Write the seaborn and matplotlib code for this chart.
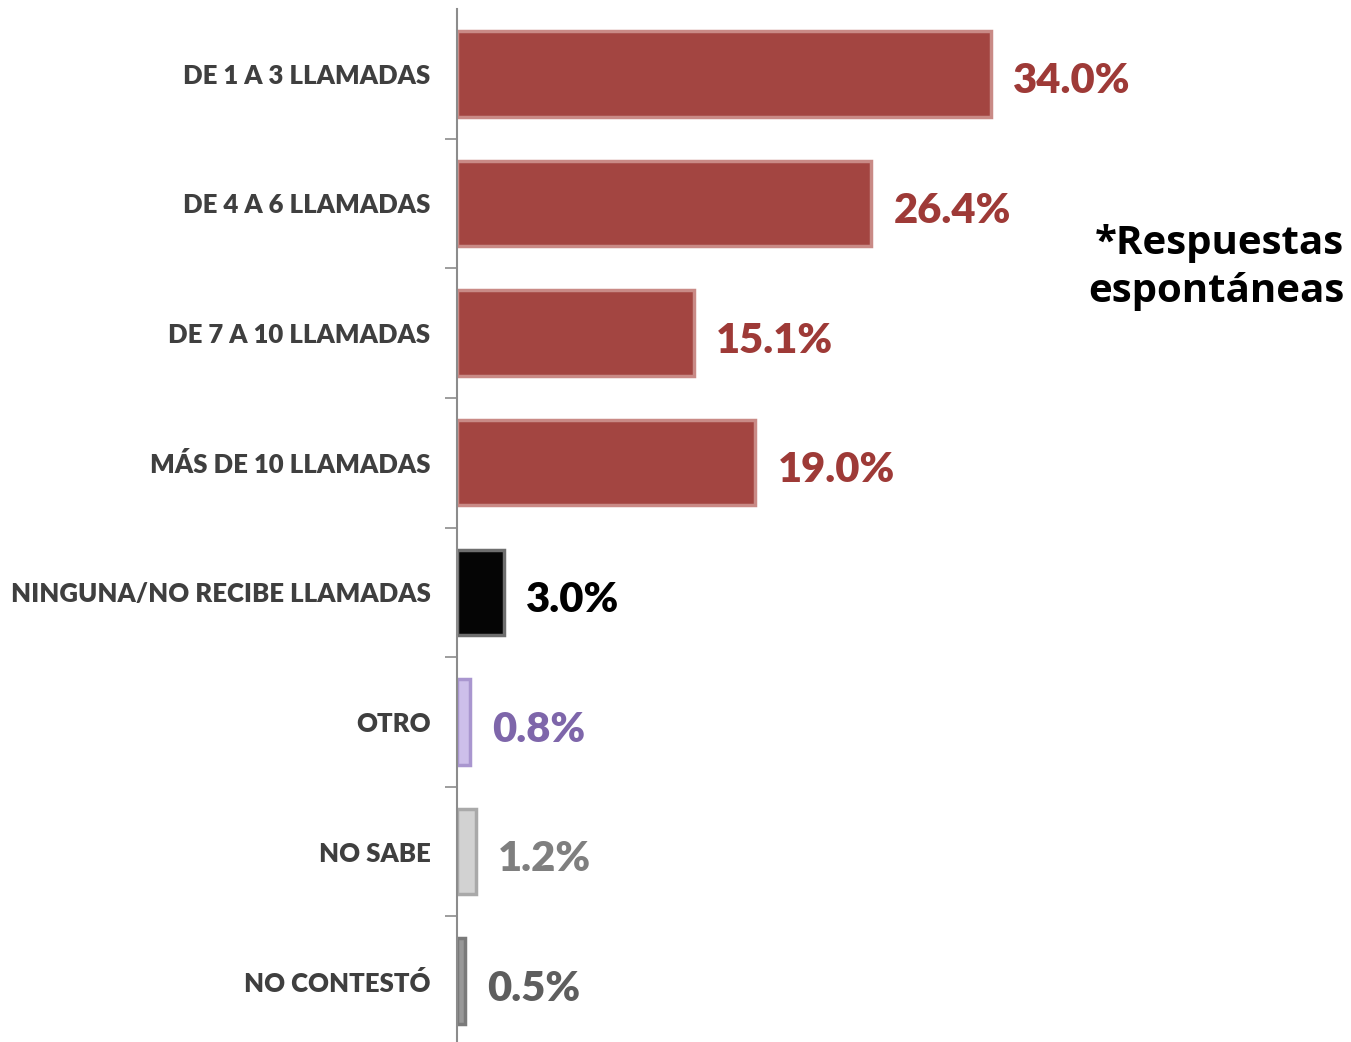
import numpy as np
import pandas as pd
import matplotlib.pyplot as plt
import seaborn as sns

sns.set_theme(style="white")
plt.rcParams['font.family'] = ['Lato', 'DejaVu Sans']

# Data
categories = ['DE 1 A 3 LLAMADAS', 'DE 4 A 6 LLAMADAS', 'DE 7 A 10 LLAMADAS',
              'MÁS DE 10 LLAMADAS', 'NINGUNA/NO RECIBE LLAMADAS', 'OTRO',
              'NO SABE', 'NO CONTESTÓ']
values = [34.0, 26.4, 15.1, 19.0, 3.0, 0.8, 1.2, 0.5]
value_labels = ['34.0%', '26.4%', '15.1%', '19.0%', '3.0%', '0.8%', '1.2%', '0.5%']

bar_colors = ['#A34541', '#A34541', '#A34541', '#A34541', '#050505',
              '#CDBFEA', '#D2D2D2', '#989898']
edge_colors = ['#C98A86', '#C98A86', '#C98A86', '#C98A86', '#6E6E6E',
               '#A996CF', '#A9A9A9', '#7A7A7A']
text_colors = ['#9E3A37', '#9E3A37', '#9E3A37', '#9E3A37', '#000000',
               '#7E66AA', '#7F7F7F', '#5E5E5E']

df = pd.DataFrame({'categoria': categories, 'valor': values})

fig = plt.figure(figsize=(13.51, 10.42), dpi=100)
ax = fig.add_axes([457 / 1351, -4 / 1042, 1 - 457 / 1351, 1037 / 1042])

sns.barplot(data=df, y='categoria', x='valor', hue='categoria',
            palette=dict(zip(categories, bar_colors)), orient='h',
            legend=False, width=0.66, ax=ax, saturation=1)

for p, ec in zip(ax.patches, edge_colors):
    p.set_edgecolor(ec)
    p.set_linewidth(2.5)

for i, (v, lab, c) in enumerate(zip(values, value_labels, text_colors)):
    ax.annotate(lab, (v, i), xytext=(16, -3), textcoords='offset points',
                ha='left', va='center_baseline', fontsize=30, fontweight='heavy', color=c)

ax.set_xlim(0, (1351 - 457) / 15.7)
ax.set_ylim(7.5, -0.5)
ax.set_xlabel('')
ax.set_ylabel('')
ax.set_xticks([])

ax.tick_params(axis='y', which='major', left=False, length=0, pad=19,
               labelsize=18.5, labelcolor='#3F3F3F')
for t in ax.get_yticklabels():
    t.set_fontweight('heavy')
ax.set_yticks(np.arange(0.5, 7.5, 1), minor=True)
ax.tick_params(axis='y', which='minor', left=True, length=9, width=1.2,
               color='#8C8C8C', direction='out')

for s in ['top', 'right', 'bottom']:
    ax.spines[s].set_visible(False)
ax.spines['left'].set_color('#8C8C8C')
ax.spines['left'].set_linewidth(1.5)

fig.text(0.995, 0.743, '*Respuestas\nespontáneas', ha='right', va='center',
         fontsize=29, fontweight='bold', color='#000000', linespacing=1.3,
         family=['Open Sans', 'DejaVu Sans'])

fig.savefig('out.png', dpi=100)
plt.close(fig)
